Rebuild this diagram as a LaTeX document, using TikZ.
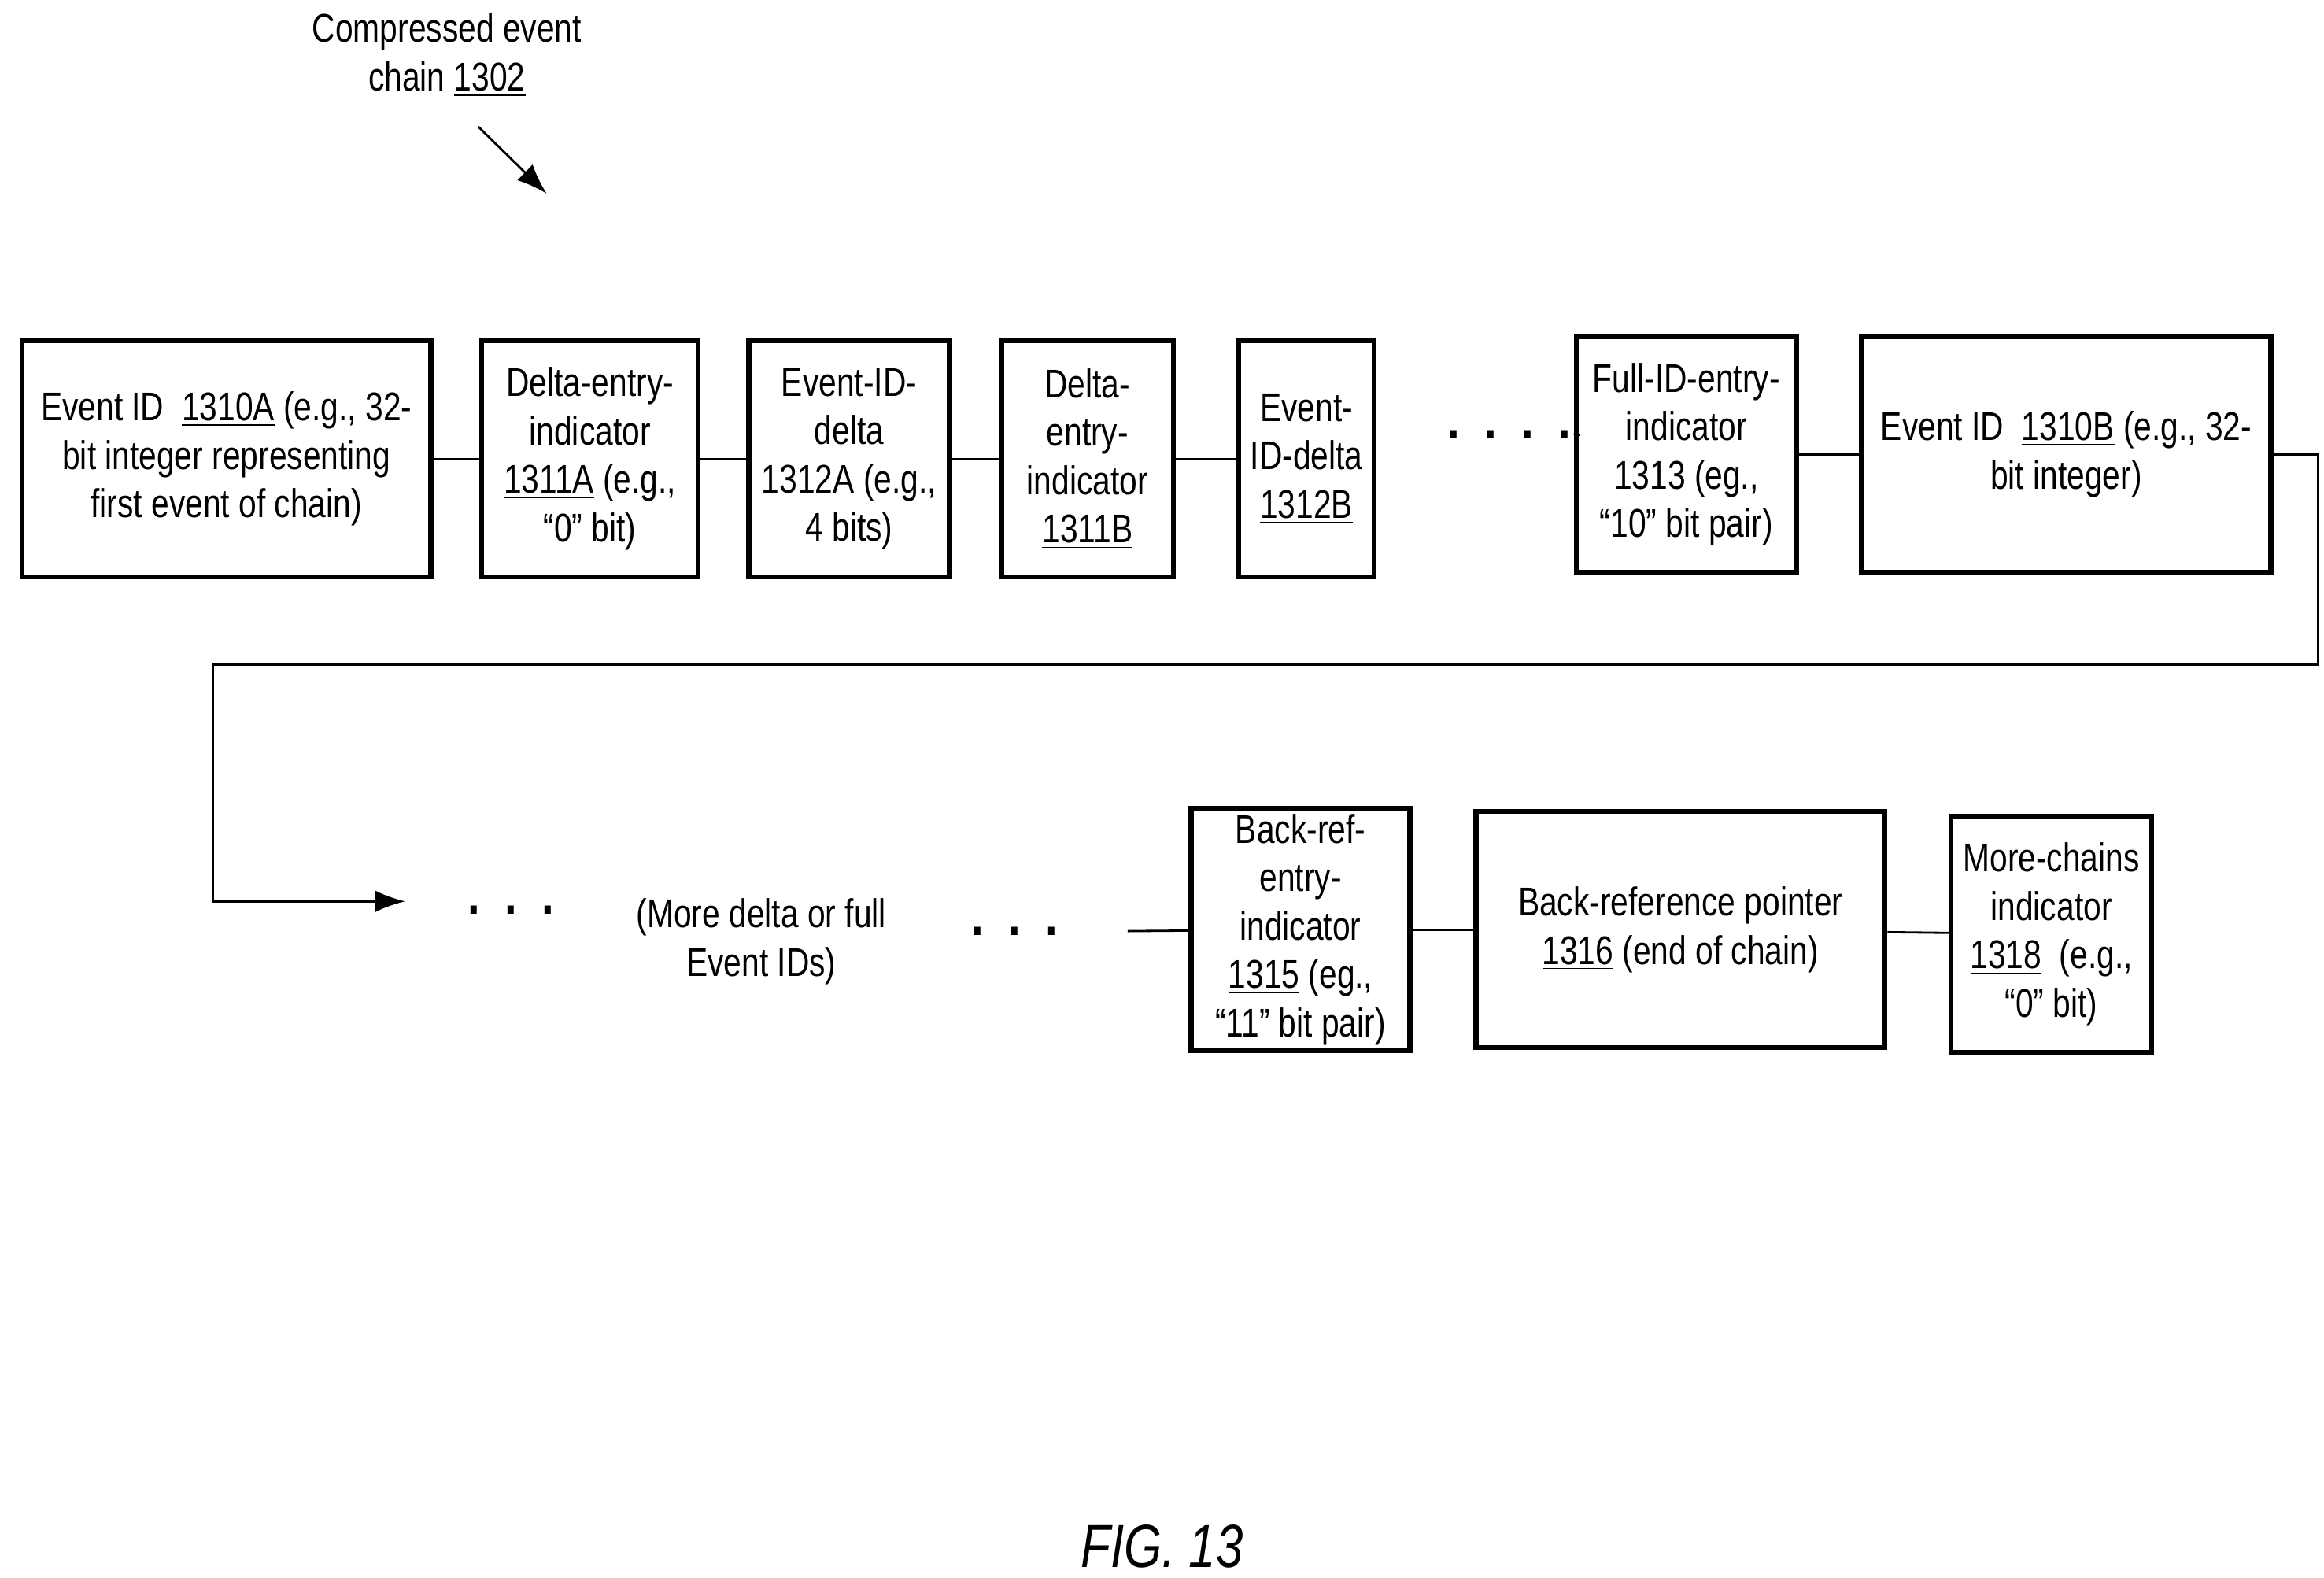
\documentclass[tikz,border=0pt]{standalone}
\usepackage{fontspec}
\setmainfont{Liberation Sans}[FakeStretch=0.8]
\usetikzlibrary{arrows.meta, positioning}
\tikzset{
  blk/.style={draw, line width=1.8pt, minimum height=3.0cm, align=center, inner sep=2pt, font=\fontsize{14.5}{17.5}\selectfont},
  lnk/.style={line width=0.8pt},
  txt/.style={align=center, font=\fontsize{14.5}{17.5}\selectfont},
  dts/.style={font=\fontsize{20}{20}\bfseries}
}
\newcommand{\ul}[1]{\underline{#1}}
\begin{document}
\begin{tikzpicture}[x=0.01893cm, y=-0.01893cm]
  \useasboundingbox (0,0) rectangle (1560,1059);
  % first row
  \node[blk, minimum width=5.2cm] (e1) at (152,308) {Event ID\ \ \ul{1310A} (e.g., 32-\\bit integer representing\\first event of chain)};
  \node[blk, minimum width=2.75cm] (d1) at (396,308) {Delta-entry-\\indicator\\\ul{1311A} (e.g.,\\“0” bit)};
  \node[blk, minimum width=2.55cm] (x1) at (570,308) {Event-ID-\\delta\\\ul{1312A} (e.g.,\\4 bits)};
  \node[blk, minimum width=2.18cm] (d2) at (730,308) {Delta-\\entry-\\indicator\\\ul{1311B}};
  \node[blk, minimum width=1.72cm] (x2) at (877,308) {Event-\\ID-delta\\\ul{1312B}};
  \node[dts] (dots1) at (1013,292) {.\ \ .\ \ .\ \ .};
  \node[blk, minimum width=2.8cm] (f1) at (1132,305) {Full-ID-entry-\\indicator\\\ul{1313} (eg.,\\“10” bit pair)};
  \node[blk, minimum width=5.2cm] (e2) at (1387,305) {Event ID\ \ \ul{1310B} (e.g., 32-\\bit integer)};
  \draw[lnk] (e1) -- (d1);
  \draw[lnk] (d1) -- (x1);
  \draw[lnk] (x1) -- (d2);
  \draw[lnk] (d2) -- (x2);
  \draw[lnk] (dots1.east) -- (f1);
  \draw[lnk] (f1) -- (e2);
  % second row
  \node[dts] (dots2) at (343,611) {.\ \ .\ \ .};
  \node[txt] (more) at (511,632) {(More delta or full\\Event IDs)};
  \node[dts] (dots3) at (681,625) {.\ \ .\ \ .};
  \node[blk, minimum width=2.78cm] (b1) at (873,624) {Back-ref-\\entry-\\indicator\\\ul{1315} (eg.,\\“11” bit pair)};
  \node[blk, minimum width=5.2cm] (b2) at (1128,624) {Back-reference pointer\\\ul{1316} (end of chain)};
  \node[blk, minimum width=2.55cm] (m1) at (1377,627) {More-chains\\indicator\\\ul{1318}\ \ (e.g.,\\“0” bit)};
  \coordinate (s) at (757,625);
  \draw[lnk] (s) -- (b1);
  \draw[lnk] (b1) -- (b2);
  \draw[lnk] (b2) -- (m1);
  \coordinate (t) at (272,605);
  \draw[lnk, -{Latex[length=11pt, width=8pt]}] (e2.east) -- (1556,305) |- (143,446) -- (143,605) -- (t);
  % title
  \node[txt] (ttl) at (300,37) {Compressed event\\chain \ul{1302}};
  \coordinate (a1) at (321,85);
  \coordinate (a2) at (367,130);
  \draw[lnk, -{Latex[length=11pt, width=8pt]}] (a1) -- (a2);
  \node[font=\fontsize{22}{26}\selectfont\itshape] (fig) at (780,1038) {FIG. 13};
\end{tikzpicture}
\end{document}
